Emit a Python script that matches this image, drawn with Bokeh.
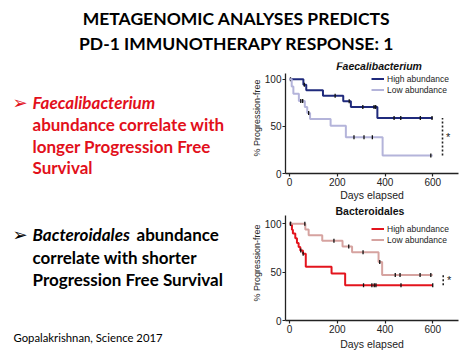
import numpy as np
from bokeh.plotting import figure
from bokeh.models import Range1d, FixedTicker, Legend, LegendItem
from bokeh.layouts import column, row
from bokeh.embed import file_html
from bokeh.resources import INLINE
from bokeh.core.properties import value

# ---------------- data ----------------
title_lines = ["METAGENOMIC ANALYSES PREDICTS", "PD-1 IMMUNOTHERAPY RESPONSE: 1"]
bullet1_lead = "Faecalibacterium"
bullet1_lines = ["abundance correlate with", "longer Progression Free", "Survival"]
bullet2_lead = "Bacteroidales"
bullet2_rest = "abundance"
bullet2_lines = ["correlate with shorter", "Progression Free Survival"]
footnote = "Gopalakrishnan, Science 2017"

x_ticks = [0, 200, 400, 600]
y_ticks = [0, 50, 100]

# Faecalibacterium (times in days, % progression-free)
fae_high_t = [0, 58, 70, 140, 225, 257, 368, 600]
fae_high_s = [100, 94.1, 88.2, 82.4, 76.5, 70.6, 58.8, 58.8]
fae_high_cens = [4, 62, 191, 250, 307, 354, 361, 438, 466, 548, 597]
fae_low_t = [0, 9, 16, 39, 64, 74, 86, 172, 236, 390, 600]
fae_low_s = [100, 92.3, 84.6, 76.9, 70.5, 64.1, 57.7, 50.5, 38.5, 19.2, 19.2]
fae_low_cens = [47, 55, 80, 270, 312, 347, 592]

# Bacteroidales
bac_high_t = [0, 10, 14, 24, 31, 38, 45, 56, 68, 176, 233, 600]
bac_high_s = [100, 93.8, 90.0, 85.0, 80.0, 76.0, 72.5, 69.0, 55.5, 48.5, 36.5, 36.5]
bac_high_cens = [4, 47, 57, 310, 345, 355, 362, 467, 600]
bac_low_t = [0, 66, 80, 137, 222, 262, 373, 388, 600]
bac_low_s = [100, 94.1, 88.2, 82.4, 76.5, 70.6, 60.5, 47.0, 47.0]
bac_low_cens = [4, 64, 186, 248, 308, 378, 443, 463, 547, 592]

series_labels = ["High abundance", "Low abundance"]

FONT = "Lato"
CHART_FONT = "Liberation Sans"
RED = "#e2101b"


def surv_at(ts, ss, tq):
    idx = np.searchsorted(np.asarray(ts), np.asarray(tq), side="right") - 1
    return list(np.asarray(ss)[idx])


def bare(w, h, xr, yr):
    p = figure(width=w, height=h, x_range=Range1d(*xr), y_range=Range1d(*yr),
               output_backend="svg", toolbar_location=None,
               min_border=0, min_border_left=0, min_border_right=0,
               min_border_top=0, min_border_bottom=0)
    p.axis.visible = False
    p.grid.visible = False
    p.outline_line_color = None
    return p


# ---------------- title (page y 0..60) ----------------
tp = bare(476, 60, (0, 476), (60, 0))
tp.text(x=[236, 236], y=[18, 43], text=title_lines, text_font=value(FONT),
        text_font_size="17.5px", text_font_style="bold", text_color="#000000",
        text_align="center", text_baseline="middle")

# ---------------- left text (page x 0..248, y 60..356) ----------------
lp = bare(248, 296, (0, 248), (296, 0))
BODY = "17px"
lp.text(x=[12], y=[42], text=["\u27a2"], text_font=value("DejaVu Sans"),
        text_font_size="18px", text_color=RED, text_baseline="middle")
lp.text(x=[32], y=[42], text=[bullet1_lead], text_font=value(FONT),
        text_font_size=BODY, text_font_style="bold italic", text_color=RED,
        text_baseline="middle")
lp.text(x=[32, 32, 32], y=[63.5, 86, 107], text=bullet1_lines, text_font=value(FONT),
        text_font_size=BODY, text_font_style="bold", text_color=RED,
        text_baseline="middle")
lp.text(x=[12], y=[173.5], text=["\u27a2"], text_font=value("DejaVu Sans"),
        text_font_size="18px", text_color="#000000", text_baseline="middle")
lp.text(x=[32], y=[173.5], text=[bullet2_lead], text_font=value(FONT),
        text_font_size=BODY, text_font_style="bold italic", text_color="#000000",
        text_baseline="middle")
lp.text(x=[136], y=[173.5], text=[bullet2_rest], text_font=value(FONT),
        text_font_size=BODY, text_font_style="bold", text_color="#000000",
        text_baseline="middle")
lp.text(x=[32, 32], y=[196.5, 218.5], text=bullet2_lines, text_font=value(FONT),
        text_font_size=BODY, text_font_style="bold", text_color="#000000",
        text_baseline="middle")
lp.text(x=[13], y=[277], text=[footnote], text_font=value(FONT),
        text_font_size="11.3px", text_color="#000000", text_baseline="middle")


# ---------------- KM plots ----------------
def km_fig(height, bottom_border, y_top, axis_top, title, title_style, title_x, title_y,
           high, low, colors, sig_x, star_x, legend_loc, xlabel_standoff):
    p = figure(width=228, height=height, x_range=Range1d(-17, 708), y_range=Range1d(0, y_top),
               output_backend="svg", toolbar_location=None,
               min_border_left=37, min_border_right=18, min_border_top=2,
               min_border_bottom=bottom_border)
    p.grid.visible = False
    p.outline_line_color = None
    p.background_fill_color = None
    p.border_fill_color = None
    for ax in (p.xaxis[0], p.yaxis[0]):
        ax.axis_line_color = "#222222"
        ax.axis_line_width = 1.3
        ax.major_tick_line_color = "#222222"
        ax.major_tick_line_width = 1.2
        ax.major_tick_out = 3
        ax.major_tick_in = 0
        ax.minor_tick_line_color = None
        ax.major_label_text_font = CHART_FONT
        ax.major_label_text_font_size = "10px"
        ax.major_label_text_color = "#222222"
        ax.axis_label_text_font = CHART_FONT
        ax.axis_label_text_font_style = "normal"
        ax.axis_label_text_color = "#222222"
    p.xaxis.ticker = FixedTicker(ticks=x_ticks)
    p.yaxis.ticker = FixedTicker(ticks=y_ticks)
    p.yaxis.bounds = (0, axis_top)
    p.xaxis.axis_label = "Days elapsed"
    p.xaxis.axis_label_text_font_size = "10.5px"
    p.xaxis.axis_label_standoff = xlabel_standoff
    p.xaxis.major_label_standoff = 1
    p.yaxis.axis_label = "% Progression-free"
    p.yaxis.axis_label_text_font_size = "9px"
    p.yaxis.axis_label_standoff = 0
    p.yaxis.major_label_standoff = 1

    renderers = []
    for (t, s, cens), col in zip((high, low), colors):
        r = p.step(x=t, y=s, mode="after", line_color=col, line_width=2)
        renderers.append(r)
        p.scatter(x=cens, y=surv_at(t, s, cens), marker="dash", angle=np.pi / 2,
                  size=4, line_color="#111111", line_width=1.3)
    # significance bracket
    y_hi = high[1][-1]
    y_lo = low[1][-1]
    p.segment(x0=[sig_x], y0=[min(y_hi, y_lo)], x1=[sig_x], y1=[max(y_hi, y_lo)],
              line_color="#222222", line_width=1.6, line_dash="2 2")
    p.text(x=[star_x], y=[(y_hi + y_lo) / 2], text=["*"], text_font=value(CHART_FONT),
           text_font_size="11px", text_color="#222222", text_align="center",
           text_baseline="middle")
    # panel title
    p.text(x=[title_x], y=[title_y], text=[title], text_font=value(CHART_FONT),
           text_font_size="10.5px", text_font_style=title_style, text_color="#111111",
           text_align="center", text_baseline="middle")
    legend = Legend(items=[LegendItem(label=series_labels[0], renderers=[renderers[0]]),
                           LegendItem(label=series_labels[1], renderers=[renderers[1]])],
                    location=legend_loc, background_fill_alpha=0, border_line_alpha=0,
                    label_text_font=CHART_FONT, label_text_font_size="8.5px",
                    label_text_color="#222222", label_height=11, glyph_height=11,
                    glyph_width=13, label_standoff=3, spacing=0, padding=0, margin=0)
    p.add_layout(legend)
    return p


# Faecalibacterium panel: page y 60..203 ; frame bottom at 175
km1 = km_fig(height=143, bottom_border=28, y_top=117.7, axis_top=106,
             title="Faecalibacterium", title_style="bold italic", title_x=375, title_y=114.5,
             high=(fae_high_t, fae_high_s, fae_high_cens),
             low=(fae_low_t, fae_low_s, fae_low_cens),
             colors=("#1f2a7c", "#b4b4da"), sig_x=641, star_x=665,
             legend_loc=(86, 78), xlabel_standoff=0)

# Bacteroidales panel: page y 203..356 ; frame bottom at 320
km2 = km_fig(height=153, bottom_border=36, y_top=118.9, axis_top=108.5,
             title="Bacteroidales", title_style="bold", title_x=337, title_y=113,
             high=(bac_high_t, bac_high_s, bac_high_cens),
             low=(bac_low_t, bac_low_s, bac_low_cens),
             colors=("#e3141d", "#d6a3a0"), sig_x=644, star_x=669,
             legend_loc=(86, 75), xlabel_standoff=2)

layout = column(tp, row(lp, column(km1, km2)))
open("out.html", "w").write(file_html(layout, INLINE))
